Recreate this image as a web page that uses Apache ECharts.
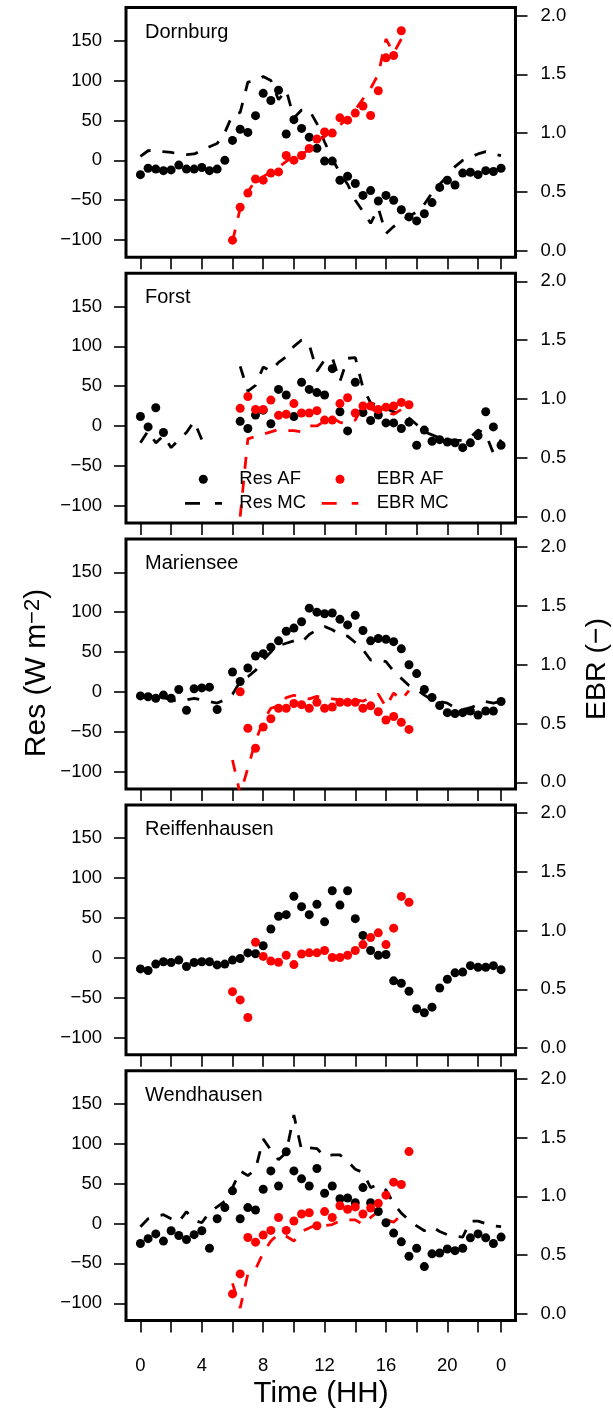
<!DOCTYPE html>
<html>
<head>
<meta charset="utf-8">
<script src="https://cdn.jsdelivr.net/npm/echarts@6/dist/echarts.min.js"></script>
<style>
html,body{margin:0;padding:0;background:#fff;}
#c{width:613px;height:1415px;}
</style>
</head>
<body>
<div id="c"></div>
<script>
const _ = null;
// time axis: half-hourly, hours
const hours = [0,0.5,1,1.5,2,2.5,3,3.5,4,4.5,5,5.5,6,6.5,7,7.5,8,8.5,9,9.5,10,10.5,11,11.5,
  12,12.5,13,13.5,14,14.5,15,15.5,16,16.5,17,17.5,18,18.5,19,19.5,20,20.5,21,21.5,22,22.5,23,23.5];
const sites = ['Dornburg','Forst','Mariensee','Reiffenhausen','Wendhausen'];
const xTickValues = [0,2,4,6,8,10,12,14,16,18,20,22,23.5];
const xLabelValues = [0,4,8,12,16,20,23.5];
const resTicks = [-100,-50,0,50,100,150];
const ebrTicks = [0,0.5,1,1.5,2];

// Dornburg
const dornburgResAF = [-18,-10,-11,-13,-12,-6,-11,-11,-9,-13,-11,0,25,39,35,56,84,75,88,33,51,40,29,15,
  -1,-1,-25,-20,-29,-44,-38,-51,-44,-50,-62,-71,-76,-67,-53,-34,-25,-31,-16,-15,-18,-13,-14,-10];
const dornburgResMC = [5,12,13,11,10,8,7,8,12,17,21,35,57,60,98,100,105,100,76,88,53,63,63,46,
  23,2,-16,-30,-50,-64,-79,-60,-92,-83,-76,-70,-65,-55,-41,-30,-20,-8,0,4,8,11,8,6];
const dornburgEbrAF = [_,_,_,_,_,_,_,_,_,_,_,_,0.09,0.37,0.49,0.61,0.60,0.66,0.67,0.81,0.77,0.81,0.87,0.95,
  1.01,1.00,1.13,1.11,1.17,1.23,1.15,1.36,1.64,1.66,1.87,_,_,_,_,_,_,_,_,_,_,_,_,_];
const dornburgEbrMC = [_,_,_,_,_,_,_,_,_,_,_,_,0.08,0.36,0.50,0.60,0.63,0.67,0.71,0.76,0.80,0.82,0.86,0.92,
  0.97,1.02,1.07,1.12,1.20,1.29,1.38,1.50,1.80,1.68,1.80,_,_,_,_,_,_,_,_,_,_,_,_,_];

// Forst
const forstResAF = [12,-1,23,-8,_,_,_,_,_,_,_,_,_,6,-3,14,20,3,46,39,12,55,46,42,
  39,72,18,-6,55,17,7,14,4,4,-3,5,-24,-5,-19,-17,-20,-21,-27,-21,-12,18,-1,-24];
const forstResMC = [-21,-6,-21,-12,-27,-17,-8,6,-17,_,_,_,_,75,44,51,74,69,80,87,100,108,102,69,
  83,86,56,85,86,48,29,26,22,18,15,10,2,-7,-11,-15,-17,-18,-18,-14,-5,-10,-34,-17];
const forstEbrAF = [_,_,_,_,_,_,_,_,_,_,_,_,_,0.92,1.02,0.91,0.91,0.99,0.86,0.87,0.96,0.88,0.88,0.90,
  0.82,0.82,0.96,1.01,0.88,0.94,0.94,0.91,0.93,0.94,0.97,0.95,_,_,_,_,_,_,_,_,_,_,_,_];
const forstEbrMC = [_,_,_,_,_,_,_,_,_,_,_,_,_,0.0,0.66,0.68,0.70,0.72,0.74,0.73,0.73,0.72,0.77,0.77,
  0.81,0.84,0.80,0.79,0.82,0.95,0.92,0.88,0.88,0.87,0.91,0.85,_,_,_,_,_,_,_,_,_,_,_,_];

// Mariensee
const marienseeResAF = [-5,-6,-8,-4,-8,3,-23,4,5,6,-22,_,25,13,30,45,48,56,64,76,80,88,105,100,
  98,99,91,84,96,77,64,67,66,63,54,34,23,3,-7,-17,-26,-27,-26,-24,-29,-24,-24,-12];
const marienseeResMC = [-5,-6,-5,-7,-10,-12,-10,-8,-10,-12,-14,-10,-3,13,19,27,40,50,58,61,64,62,72,78,
  82,78,72,70,62,53,40,40,38,26,17,8,3,-4,-10,-12,-14,-20,-22,-20,-16,-12,-14,-12];
const marienseeEbrAF = [_,_,_,_,_,_,_,_,_,_,_,_,_,0.77,0.46,0.29,0.47,0.54,0.63,0.63,0.67,0.66,0.63,0.68,
  0.63,0.64,0.68,0.68,0.68,0.63,0.65,0.60,0.53,0.56,0.51,0.45,_,_,_,_,_,_,_,_,_,_,_,_];
const marienseeEbrMC = [_,_,_,_,_,_,_,_,_,_,_,_,0.19,-0.10,0.12,0.35,0.52,0.63,0.65,0.72,0.74,0.72,0.71,0.73,
  0.72,0.71,0.70,0.70,0.70,0.69,0.72,0.75,0.64,0.76,0.70,0.78,_,_,_,_,_,_,_,_,_,_,_,_];

// Reiffenhausen
const reiffenhausenResAF = [-14,-16,-8,-5,-6,-3,-11,-6,-5,-5,-9,-8,-3,-1,6,5,15,36,52,54,77,64,54,67,
  45,84,66,84,49,28,9,3,4,-29,-32,-42,-64,-69,-62,-38,-27,-19,-18,-10,-12,-12,-10,-15];
const reiffenhausenEbrAF = [_,_,_,_,_,_,_,_,_,_,_,_,0.48,0.41,0.26,0.90,0.78,0.74,0.73,0.79,0.71,0.80,0.81,0.81,
  0.83,0.77,0.77,0.79,0.83,0.88,0.94,0.98,0.88,1.02,1.29,1.24,_,_,_,_,_,_,_,_,_,_,_,_];

// Wendhausen
const wendhausenResAF = [-25,-19,-13,-22,-9,-15,-20,-14,-9,-31,6,20,41,6,20,17,43,66,47,90,66,56,47,69,
  38,47,31,32,26,45,26,15,1,-12,-23,-41,-31,-54,-38,-37,-32,-34,-31,-18,-13,-18,-25,-17];
const wendhausenResMC = [-4,6,9,11,6,2,15,4,1,14,21,28,45,66,60,68,106,92,80,89,136,92,95,94,
  84,86,86,78,68,64,45,49,42,25,13,4,-3,-9,-4,-10,-14,-16,-17,3,3,0,-3,-4];
const wendhausenEbrAF = [_,_,_,_,_,_,_,_,_,_,_,_,0.17,0.34,0.65,0.61,0.67,0.71,0.82,0.71,0.79,0.85,0.86,0.75,
  0.87,0.82,0.92,0.89,0.91,0.85,0.90,0.94,1.01,1.12,1.10,1.38,_,_,_,_,_,_,_,_,_,_,_,_];
const wendhausenEbrMC = [_,_,_,_,_,_,_,_,_,_,_,_,0.26,0.05,0.34,0.38,0.52,0.62,0.68,0.66,0.62,0.70,0.73,0.76,
  0.75,0.76,0.79,0.80,0.80,0.76,0.82,0.87,0.80,0.78,0.84,_,_,_,_,_,_,_,_,_,_,_,_,_];

const panels = [
  {resAF: dornburgResAF, resMC: dornburgResMC, ebrAF: dornburgEbrAF, ebrMC: dornburgEbrMC},
  {resAF: forstResAF, resMC: forstResMC, ebrAF: forstEbrAF, ebrMC: forstEbrMC},
  {resAF: marienseeResAF, resMC: marienseeResMC, ebrAF: marienseeEbrAF, ebrMC: marienseeEbrMC},
  {resAF: reiffenhausenResAF, resMC: null, ebrAF: reiffenhausenEbrAF, ebrMC: null},
  {resAF: wendhausenResAF, resMC: wendhausenResMC, ebrAF: wendhausenEbrAF, ebrMC: wendhausenEbrMC}
];

const FONT = '"Liberation Sans", Arial, Helvetica, sans-serif';
const RED = '#ff0000';
const GL = 126, GW = 389.5, GT0 = 7.5, GH = 249.8, STEP = 265.8;
const minus = s => String(s).replace('-', '\u2212');
const tickStyle = {color: '#000', width: 1.6};

const grids = [], xAxes = [], yAxes = [], series = [];
panels.forEach((p, k) => {
  grids.push({left: GL, top: GT0 + STEP * k, width: GW, height: GH, show: true,
    borderColor: '#000', borderWidth: 3, backgroundColor: 'transparent', containLabel: false, outerBoundsMode: 'none'});
  xAxes.push({gridIndex: k, type: 'value', position: 'bottom', min: -0.94, max: 24.44,
    axisLine: {show: false, onZero: false}, splitLine: {show: false},
    axisTick: {show: true, customValues: xTickValues, length: 12, lineStyle: tickStyle},
    axisLabel: {show: k === 4, customValues: xLabelValues, margin: 36, fontSize: 18.5, color: '#000', fontFamily: FONT,
      formatter: v => (v === 23.5 ? '0' : String(v))}});
  yAxes.push({gridIndex: k, type: 'value', position: 'left', min: -121.6, max: 191.6,
    axisLine: {show: false, onZero: false}, splitLine: {show: false},
    axisTick: {show: true, customValues: resTicks, length: 12, lineStyle: tickStyle},
    axisLabel: {customValues: resTicks, margin: 24, fontSize: 18.5, color: '#000', fontFamily: FONT, formatter: v => minus(v)}});
  yAxes.push({gridIndex: k, type: 'value', position: 'right', min: -0.056, max: 2.068,
    axisLine: {show: false, onZero: false}, splitLine: {show: false},
    axisTick: {show: true, customValues: ebrTicks, length: 12, lineStyle: tickStyle},
    axisLabel: {customValues: ebrTicks, margin: 25, fontSize: 18.5, color: '#000', fontFamily: FONT, formatter: v => v.toFixed(1)}});

  const linePts = arr => hours.map((h, i) => [h, arr[i] == null ? '-' : arr[i]]);
  const dotPts = arr => hours.map((h, i) => [h, arr[i]]).filter(d => d[1] != null);
  if (p.resMC) series.push({type: 'line', xAxisIndex: k, yAxisIndex: 2 * k, data: linePts(p.resMC), symbol: 'none',
    connectNulls: false, clip: true, lineStyle: {color: '#000', width: 2.8, type: [12, 12], cap: 'butt', opacity: 1}, z: 2});
  if (p.ebrMC) series.push({type: 'line', xAxisIndex: k, yAxisIndex: 2 * k + 1, data: linePts(p.ebrMC), symbol: 'none',
    connectNulls: false, clip: true, lineStyle: {color: RED, width: 2.8, type: [12, 12], cap: 'butt', opacity: 1}, z: 2});
  series.push({type: 'scatter', xAxisIndex: k, yAxisIndex: 2 * k, data: dotPts(p.resAF), symbol: 'circle',
    symbolSize: 9, itemStyle: {color: '#000', opacity: 1}, z: 3, clip: true});
  series.push({type: 'scatter', xAxisIndex: k, yAxisIndex: 2 * k + 1, data: dotPts(p.ebrAF), symbol: 'circle',
    symbolSize: 9, itemStyle: {color: RED, opacity: 1}, z: 3, clip: true});
});

const graphics = [];
sites.forEach((s, k) => {
  graphics.push({type: 'text', left: 145, top: 22 + STEP * k, z: 10,
    style: {text: s, fontSize: 20, fontFamily: FONT, fill: '#000'}});
});
// legend inside Forst panel
const L1 = 479.3, L2 = 503.3;
graphics.push(
  {type: 'circle', shape: {cx: 203.3, cy: L1, r: 4.5}, style: {fill: '#000'}, z: 10},
  {type: 'circle', shape: {cx: 340, cy: L1, r: 4.5}, style: {fill: RED}, z: 10},
  {type: 'line', shape: {x1: 185, y1: L2, x2: 222, y2: L2}, style: {stroke: '#000', lineWidth: 2.8, lineDash: [15, 15]}, z: 10},
  {type: 'line', shape: {x1: 321.7, y1: L2, x2: 358.3, y2: L2}, style: {stroke: RED, lineWidth: 2.8, lineDash: [15, 15]}, z: 10},
  {type: 'text', x: 239.3, y: L1, style: {text: 'Res AF', fontSize: 18.5, fontFamily: FONT, fill: '#000', textVerticalAlign: 'middle'}, z: 10},
  {type: 'text', x: 376.7, y: L1, style: {text: 'EBR AF', fontSize: 18.5, fontFamily: FONT, fill: '#000', textVerticalAlign: 'middle'}, z: 10},
  {type: 'text', x: 239.3, y: L2, style: {text: 'Res MC', fontSize: 18.5, fontFamily: FONT, fill: '#000', textVerticalAlign: 'middle'}, z: 10},
  {type: 'text', x: 376.7, y: L2, style: {text: 'EBR MC', fontSize: 18.5, fontFamily: FONT, fill: '#000', textVerticalAlign: 'middle'}, z: 10}
);
// overall axis titles
graphics.push(
  {type: 'text', x: 37, y: 673, rotation: Math.PI / 2, z: 10,
    style: {text: '{a|Res (W m}{s|\u22122}{a|)}', textAlign: 'center', textVerticalAlign: 'middle', fill: '#000',
      rich: {a: {fontSize: 30, fontFamily: FONT, fill: '#000'},
             s: {fontSize: 22, fontFamily: FONT, fill: '#000', verticalAlign: 'top'}}}},
  {type: 'text', x: 597, y: 669, rotation: Math.PI / 2, z: 10,
    style: {text: 'EBR (\u2212)', textAlign: 'center', textVerticalAlign: 'middle', fontSize: 28.5, fontFamily: FONT, fill: '#000'}},
  {type: 'text', x: 321, y: 1394, z: 10,
    style: {text: 'Time (HH)', textAlign: 'center', textVerticalAlign: 'middle', fontSize: 29.5, fontFamily: FONT, fill: '#000'}}
);

const chart = echarts.init(document.getElementById('c'), null, {renderer: 'canvas'});
chart.setOption({
  animation: false,
  backgroundColor: '#fff',
  textStyle: {fontFamily: FONT},
  grid: grids, xAxis: xAxes, yAxis: yAxes, series: series, graphic: graphics
});
</script>
</body>
</html>
